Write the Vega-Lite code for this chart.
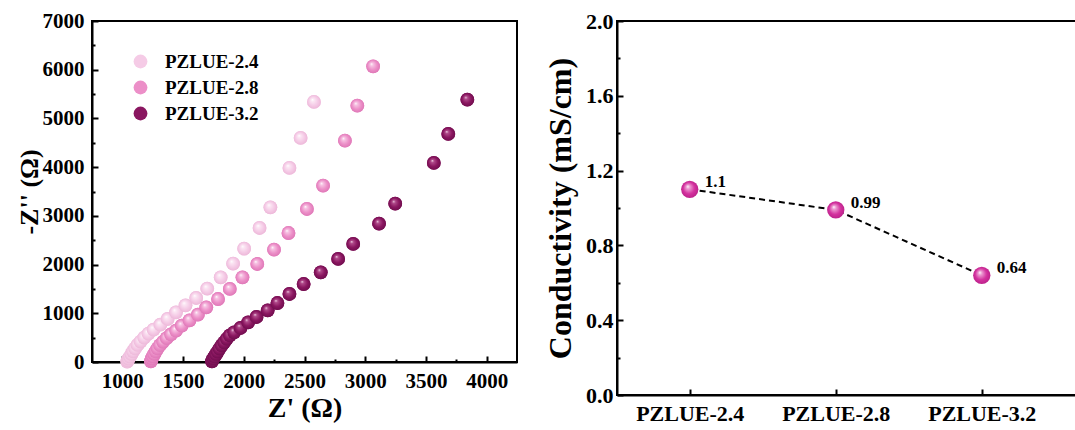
{
  "$schema": "https://vega.github.io/schema/vega-lite/v6.json",
  "background": "white",
  "padding": {"left": 15, "top": 9, "right": 0, "bottom": 0},
  "spacing": 25,
  "config": {
    "font": "Liberation Serif",
    "view": {"stroke": "#000", "strokeWidth": 2},
    "axis": {
      "labelFont": "Liberation Serif", "labelFontWeight": "bold", "labelColor": "#000",
      "titleFont": "Liberation Serif", "titleFontWeight": "bold", "titleColor": "#000",
      "domainColor": "#000", "domainWidth": 2, "tickColor": "#000", "tickWidth": 2,
      "grid": false
    }
  },
  "datasets": {
    "eis": [
      {"s": "PZLUE-2.4", "zr": 1040, "zi": 10}, {"s": "PZLUE-2.4", "zr": 1045, "zi": 35}, {"s": "PZLUE-2.4", "zr": 1052, "zi": 70},
      {"s": "PZLUE-2.4", "zr": 1063, "zi": 110}, {"s": "PZLUE-2.4", "zr": 1075, "zi": 160}, {"s": "PZLUE-2.4", "zr": 1088, "zi": 220},
      {"s": "PZLUE-2.4", "zr": 1105, "zi": 280}, {"s": "PZLUE-2.4", "zr": 1125, "zi": 350}, {"s": "PZLUE-2.4", "zr": 1150, "zi": 420},
      {"s": "PZLUE-2.4", "zr": 1180, "zi": 500}, {"s": "PZLUE-2.4", "zr": 1215, "zi": 580}, {"s": "PZLUE-2.4", "zr": 1257, "zi": 664},
      {"s": "PZLUE-2.4", "zr": 1313, "zi": 766}, {"s": "PZLUE-2.4", "zr": 1373, "zi": 883}, {"s": "PZLUE-2.4", "zr": 1442, "zi": 1020},
      {"s": "PZLUE-2.4", "zr": 1520, "zi": 1163}, {"s": "PZLUE-2.4", "zr": 1608, "zi": 1314}, {"s": "PZLUE-2.4", "zr": 1699, "zi": 1505},
      {"s": "PZLUE-2.4", "zr": 1810, "zi": 1738}, {"s": "PZLUE-2.4", "zr": 1912, "zi": 2019}, {"s": "PZLUE-2.4", "zr": 2003, "zi": 2327},
      {"s": "PZLUE-2.4", "zr": 2130, "zi": 2751}, {"s": "PZLUE-2.4", "zr": 2219, "zi": 3175}, {"s": "PZLUE-2.4", "zr": 2376, "zi": 3983},
      {"s": "PZLUE-2.4", "zr": 2468, "zi": 4599}, {"s": "PZLUE-2.4", "zr": 2578, "zi": 5338},
      {"s": "PZLUE-2.8", "zr": 1235, "zi": 14}, {"s": "PZLUE-2.8", "zr": 1238, "zi": 40}, {"s": "PZLUE-2.8", "zr": 1244, "zi": 75},
      {"s": "PZLUE-2.8", "zr": 1252, "zi": 115}, {"s": "PZLUE-2.8", "zr": 1262, "zi": 165}, {"s": "PZLUE-2.8", "zr": 1275, "zi": 220},
      {"s": "PZLUE-2.8", "zr": 1290, "zi": 280}, {"s": "PZLUE-2.8", "zr": 1310, "zi": 345}, {"s": "PZLUE-2.8", "zr": 1335, "zi": 415},
      {"s": "PZLUE-2.8", "zr": 1365, "zi": 490}, {"s": "PZLUE-2.8", "zr": 1400, "zi": 565}, {"s": "PZLUE-2.8", "zr": 1442, "zi": 643},
      {"s": "PZLUE-2.8", "zr": 1489, "zi": 745}, {"s": "PZLUE-2.8", "zr": 1553, "zi": 856}, {"s": "PZLUE-2.8", "zr": 1622, "zi": 972},
      {"s": "PZLUE-2.8", "zr": 1691, "zi": 1123}, {"s": "PZLUE-2.8", "zr": 1788, "zi": 1293}, {"s": "PZLUE-2.8", "zr": 1885, "zi": 1499},
      {"s": "PZLUE-2.8", "zr": 1989, "zi": 1738}, {"s": "PZLUE-2.8", "zr": 2111, "zi": 2012}, {"s": "PZLUE-2.8", "zr": 2249, "zi": 2306},
      {"s": "PZLUE-2.8", "zr": 2368, "zi": 2648}, {"s": "PZLUE-2.8", "zr": 2520, "zi": 3141}, {"s": "PZLUE-2.8", "zr": 2653, "zi": 3620},
      {"s": "PZLUE-2.8", "zr": 2833, "zi": 4544}, {"s": "PZLUE-2.8", "zr": 2935, "zi": 5262}, {"s": "PZLUE-2.8", "zr": 3065, "zi": 6070},
      {"s": "PZLUE-3.2", "zr": 1738, "zi": 14}, {"s": "PZLUE-3.2", "zr": 1742, "zi": 40}, {"s": "PZLUE-3.2", "zr": 1750, "zi": 75},
      {"s": "PZLUE-3.2", "zr": 1760, "zi": 115}, {"s": "PZLUE-3.2", "zr": 1772, "zi": 160}, {"s": "PZLUE-3.2", "zr": 1785, "zi": 215},
      {"s": "PZLUE-3.2", "zr": 1800, "zi": 275}, {"s": "PZLUE-3.2", "zr": 1818, "zi": 340}, {"s": "PZLUE-3.2", "zr": 1838, "zi": 405},
      {"s": "PZLUE-3.2", "zr": 1860, "zi": 475}, {"s": "PZLUE-3.2", "zr": 1885, "zi": 545}, {"s": "PZLUE-3.2", "zr": 1920, "zi": 609},
      {"s": "PZLUE-3.2", "zr": 1973, "zi": 698}, {"s": "PZLUE-3.2", "zr": 2036, "zi": 815}, {"s": "PZLUE-3.2", "zr": 2105, "zi": 924},
      {"s": "PZLUE-3.2", "zr": 2197, "zi": 1061}, {"s": "PZLUE-3.2", "zr": 2277, "zi": 1211}, {"s": "PZLUE-3.2", "zr": 2376, "zi": 1396},
      {"s": "PZLUE-3.2", "zr": 2493, "zi": 1601}, {"s": "PZLUE-3.2", "zr": 2634, "zi": 1841}, {"s": "PZLUE-3.2", "zr": 2777, "zi": 2115},
      {"s": "PZLUE-3.2", "zr": 2901, "zi": 2423}, {"s": "PZLUE-3.2", "zr": 3114, "zi": 2839}, {"s": "PZLUE-3.2", "zr": 3247, "zi": 3250},
      {"s": "PZLUE-3.2", "zr": 3565, "zi": 4086}, {"s": "PZLUE-3.2", "zr": 3684, "zi": 4681}, {"s": "PZLUE-3.2", "zr": 3841, "zi": 5385}
    ],
    "cond": [
      {"sample": "PZLUE-2.4", "c": 1.1, "label": "1.1"},
      {"sample": "PZLUE-2.8", "c": 0.99, "label": "0.99"},
      {"sample": "PZLUE-3.2", "c": 0.64, "label": "0.64"}
    ]
  },
  "hconcat": [
    {
      "width": 425,
      "height": 341,
      "data": {"name": "eis"},
      "encoding": {
        "x": {
          "field": "zr", "type": "quantitative",
          "scale": {"domain": [750, 4250], "nice": false, "zero": false},
          "axis": {
            "title": "Z' (Ω)", "titleFontSize": 28, "titlePadding": 3,
            "values": [1000, 1250, 1500, 1750, 2000, 2250, 2500, 2750, 3000, 3250, 3500, 3750, 4000],
            "labelExpr": "datum.value % 500 === 0 ? datum.label : ''",
            "format": "d", "labelFontSize": 21, "labelPadding": 14,
            "tickSize": {"condition": {"test": "datum.value % 500 === 0", "value": -6}, "value": -3}
          }
        },
        "y": {
          "field": "zi", "type": "quantitative",
          "scale": {"domain": [0, 7000], "nice": false},
          "axis": {
            "title": "-Z'' (Ω)", "titleFontSize": 26, "titlePadding": 0,
            "values": [0, 500, 1000, 1500, 2000, 2500, 3000, 3500, 4000, 4500, 5000, 5500, 6000, 6500, 7000],
            "labelExpr": "datum.value % 1000 === 0 ? datum.label : ''",
            "format": "d", "labelFontSize": 21, "labelPadding": 14,
            "tickSize": {"condition": {"test": "datum.value % 1000 === 0", "value": -6}, "value": -3}
          }
        }
      },
      "layer": [
        {
          "mark": {"type": "point", "filled": true, "opacity": 1, "size": 190, "strokeWidth": 0},
          "encoding": {
            "color": {
              "field": "s", "type": "nominal",
              "scale": {"domain": ["PZLUE-2.4", "PZLUE-2.8", "PZLUE-3.2"], "range": ["#f5cbe6", "#ec8fc8", "#8a1660"]},
              "legend": {
                "orient": "none", "legendX": 39, "legendY": 31, "title": null,
                "symbolType": "circle", "symbolSize": 190, "symbolStrokeWidth": 0,
                "labelFont": "Liberation Serif", "labelFontWeight": "bold", "labelFontSize": 19, "labelColor": "#000",
                "labelOffset": 15, "rowPadding": 6
              }
            }
          }
        },
        {
          "transform": [{"filter": "datum.s === 'PZLUE-2.4'"}],
          "mark": {"type": "point", "filled": true, "opacity": 1, "size": 190, "strokeWidth": 0,
            "fill": {"gradient": "radial", "x1": 0.38, "y1": 0.33, "r1": 0, "x2": 0.5, "y2": 0.5, "r2": 0.55,
              "stops": [{"offset": 0, "color": "#ffffff"}, {"offset": 0.2, "color": "#fbe6f3"}, {"offset": 0.6, "color": "#f5cbe6"}, {"offset": 1, "color": "#ebb4d6"}]}}
        },
        {
          "transform": [{"filter": "datum.s === 'PZLUE-2.8'"}],
          "mark": {"type": "point", "filled": true, "opacity": 1, "size": 190, "strokeWidth": 0,
            "fill": {"gradient": "radial", "x1": 0.38, "y1": 0.33, "r1": 0, "x2": 0.5, "y2": 0.5, "r2": 0.55,
              "stops": [{"offset": 0, "color": "#ffffff"}, {"offset": 0.2, "color": "#f6c2e2"}, {"offset": 0.6, "color": "#ec8fc8"}, {"offset": 1, "color": "#dc74b4"}]}}
        },
        {
          "transform": [{"filter": "datum.s === 'PZLUE-3.2'"}],
          "mark": {"type": "point", "filled": true, "opacity": 1, "size": 190, "strokeWidth": 0,
            "fill": {"gradient": "radial", "x1": 0.38, "y1": 0.33, "r1": 0, "x2": 0.5, "y2": 0.5, "r2": 0.55,
              "stops": [{"offset": 0, "color": "#f4d8ea"}, {"offset": 0.2, "color": "#b04a8a"}, {"offset": 0.6, "color": "#8a1660"}, {"offset": 1, "color": "#6c0c4b"}]}}
        }
      ]
    },
    {
      "width": 462,
      "height": 374,
      "data": {"name": "cond"},
      "encoding": {
        "x": {
          "field": "sample", "type": "nominal",
          "scale": {"type": "point", "padding": 0.582, "align": 0.428},
          "axis": {
            "title": null, "labelAngle": 0, "labelFontSize": 22, "labelPadding": 14,
            "tickSize": -6
          }
        },
        "y": {
          "field": "c", "type": "quantitative",
          "scale": {"domain": [0, 2], "nice": false},
          "axis": {
            "title": "Conductivity (mS/cm)", "titleFontSize": 32, "titlePadding": 8,
            "values": [0, 0.2, 0.4, 0.6, 0.8, 1.0, 1.2, 1.4, 1.6, 1.8, 2.0],
            "format": ".1f",
            "labelExpr": "round(datum.value * 10) % 4 === 0 ? datum.label : ''",
            "labelFontSize": 22, "labelPadding": 10,
            "tickSize": {"condition": {"test": "round(datum.value * 10) % 4 === 0", "value": -6}, "value": -3}
          }
        }
      },
      "layer": [
        {"mark": {"type": "line", "color": "#000", "strokeWidth": 2, "strokeDash": [6, 4]}},
        {"mark": {"type": "point", "filled": true, "opacity": 1, "size": 300, "strokeWidth": 0,
          "fill": {"gradient": "radial", "x1": 0.38, "y1": 0.33, "r1": 0, "x2": 0.5, "y2": 0.5, "r2": 0.55,
            "stops": [{"offset": 0, "color": "#ffffff"}, {"offset": 0.2, "color": "#ec9bd2"}, {"offset": 0.6, "color": "#d4329f"}, {"offset": 1, "color": "#b81f87"}]}}},
        {"mark": {"type": "text", "align": "left", "baseline": "middle", "dx": 15, "dy": -7,
          "font": "Liberation Serif", "fontWeight": "bold", "fontSize": 17, "color": "#000"},
         "encoding": {"text": {"field": "label"}}}
      ]
    }
  ]
}
